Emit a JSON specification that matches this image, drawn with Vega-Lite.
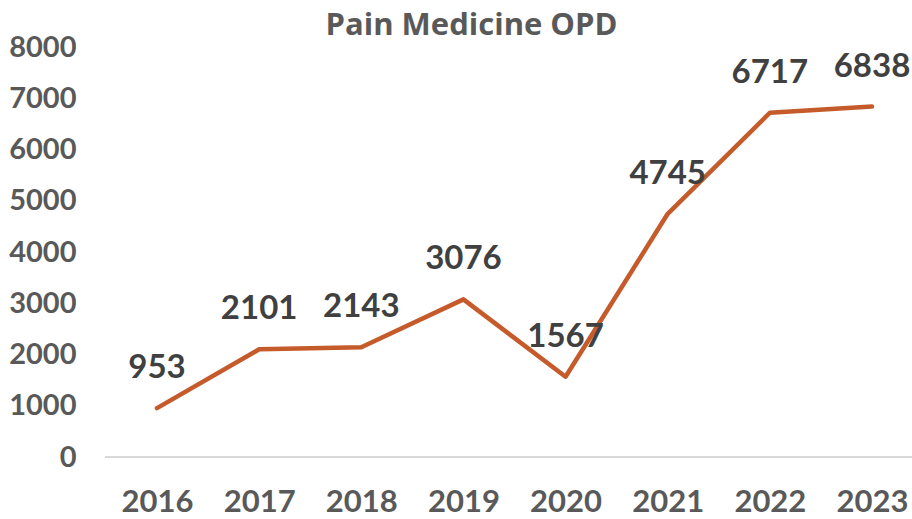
{
  "$schema": "https://vega.github.io/schema/vega-lite/v6.json",
  "autosize": {"type": "none"},
  "padding": {"left": 105, "top": 47, "right": 0, "bottom": 62},
  "width": 807,
  "height": 410,
  "background": "white",
  "config": {"view": {"stroke": null}},
  "title": {
    "text": "Pain Medicine OPD",
    "font": "Open Sans",
    "fontSize": 31,
    "fontWeight": "bold",
    "color": "#595959",
    "anchor": "middle",
    "dx": -37,
    "offset": -9,
    "limit": 700
  },
  "data": {
    "values": [
      {"year": "2016", "value": 953},
      {"year": "2017", "value": 2101},
      {"year": "2018", "value": 2143},
      {"year": "2019", "value": 3076},
      {"year": "2020", "value": 1567},
      {"year": "2021", "value": 4745},
      {"year": "2022", "value": 6717},
      {"year": "2023", "value": 6838}
    ]
  },
  "encoding": {
    "x": {
      "field": "year",
      "type": "ordinal",
      "scale": {"type": "point", "range": [52, 767], "padding": 0},
      "axis": {
        "title": null,
        "labelAngle": 0,
        "labelFont": "Lato",
        "labelFontSize": 31,
        "labelFontWeight": "bold",
        "labelColor": "#595959",
        "labelPadding": 30,
        "ticks": false,
        "domain": false,
        "grid": false
      }
    },
    "y": {
      "field": "value",
      "type": "quantitative",
      "scale": {"domain": [0, 8000]},
      "axis": {
        "title": null,
        "values": [0, 1000, 2000, 3000, 4000, 5000, 6000, 7000, 8000],
        "format": "d",
        "labelFont": "Lato",
        "labelFontSize": 29,
        "labelFontWeight": "bold",
        "labelColor": "#595959",
        "labelPadding": 29,
        "ticks": false,
        "domain": false,
        "grid": false
      }
    }
  },
  "layer": [
    {
      "mark": {"type": "rule", "color": "#D9D9D9", "strokeWidth": 1.5},
      "encoding": {"x": null, "y": {"datum": 0, "type": "quantitative"}}
    },
    {
      "mark": {"type": "line", "color": "#C55A2A", "strokeWidth": 4.5, "strokeCap": "round", "strokeJoin": "round"}
    },
    {
      "mark": {"type": "text", "font": "Lato", "fontSize": 33, "fontWeight": "bold", "color": "#404040", "dy": -40},
      "encoding": {"text": {"field": "value", "type": "quantitative", "format": "d"}}
    }
  ]
}
